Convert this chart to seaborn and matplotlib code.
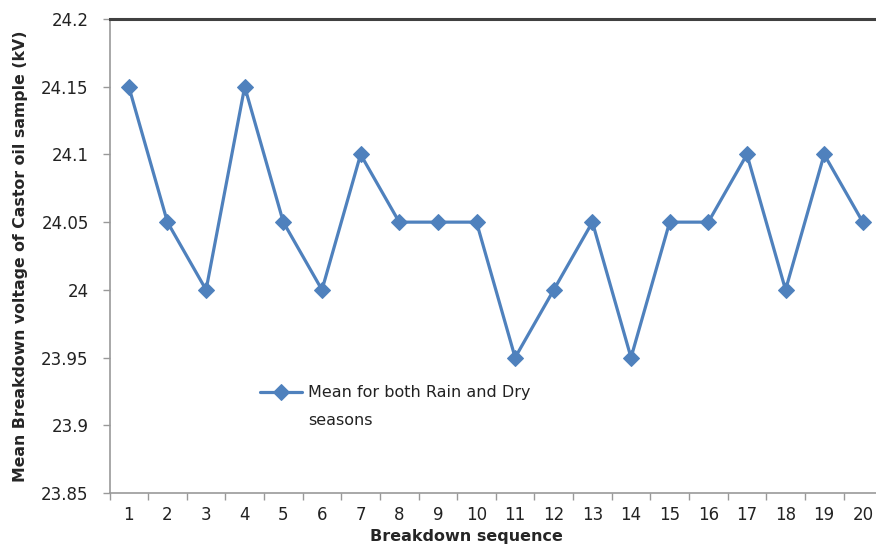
import pandas as pd
import matplotlib.pyplot as plt
import seaborn as sns

sns.set_style("white")
plt.rcParams['font.family'] = ['DejaVu Sans']

# Data
sequence = list(range(1, 21))
mean_voltage = [24.15, 24.05, 24.00, 24.15, 24.05, 24.00, 24.10, 24.05, 24.05, 24.05,
                23.95, 24.00, 24.05, 23.95, 24.05, 24.05, 24.10, 24.00, 24.10, 24.05]
y_ticks = [23.85, 23.9, 23.95, 24.0, 24.05, 24.1, 24.15, 24.2]
y_tick_labels = ["23.85", "23.9", "23.95", "24", "24.05", "24.1", "24.15", "24.2"]

df = pd.DataFrame({"seq": sequence, "voltage": mean_voltage})

fig = plt.figure(figsize=(8.76, 5.47), dpi=100)
# plot area runs past the right edge, like the cropped original
ax = fig.add_axes([0.125, 0.0987, 0.882, 0.8666])

sns.lineplot(data=df, x="seq", y="voltage", ax=ax, color="#4F81BD",
             linewidth=2.3, marker="D", markersize=8.5, markeredgecolor="#4F81BD",
             label="Mean for both Rain and Dry")

ax.set_xlim(0.5, 20.5)
ax.set_ylim(23.85, 24.2)
ax.set_xticks(sequence)
ax.set_xticks([i + 0.5 for i in range(0, 21)], minor=True)
ax.set_yticks(y_ticks)
ax.set_yticklabels(y_tick_labels)

ax.tick_params(axis="x", which="major", bottom=False, labelsize=12, pad=6, labelcolor="#222222")
ax.tick_params(axis="x", which="minor", bottom=True, length=5, width=1, color="#999999",
               direction="out")
ax.tick_params(axis="y", which="major", left=True, length=5, width=1, color="#999999",
               direction="out", labelsize=12, pad=10, labelcolor="#222222")

ax.spines["left"].set_color("#999999")
ax.spines["bottom"].set_color("#999999")
ax.spines["left"].set_linewidth(1.2)
ax.spines["bottom"].set_linewidth(1.2)
ax.spines["top"].set_color("#404040")
ax.spines["top"].set_linewidth(2.2)
ax.spines["right"].set_visible(False)

ax.set_xlabel("Breakdown sequence", fontsize=11.5, fontweight="bold")
ax.xaxis.set_label_coords(0.462, -0.076)
ax.set_ylabel("Mean Breakdown voltage of Castor oil sample (kV)", fontsize=11.3,
              fontweight="bold")
ax.yaxis.set_label_coords(-0.106, 0.5)

ax.legend(loc="center left", bbox_to_anchor=(0.187, 0.211), frameon=False, borderaxespad=0,
          fontsize=11.5, handlelength=2.6, handletextpad=0.4, labelcolor="#222222")
# second line of the legend entry, set under the first one as in the original
ax.text(0.257, 0.154, "seasons", transform=ax.transAxes, fontsize=11.5,
        color="#222222", va="center", ha="left")

fig.savefig("out.png", dpi=100)
